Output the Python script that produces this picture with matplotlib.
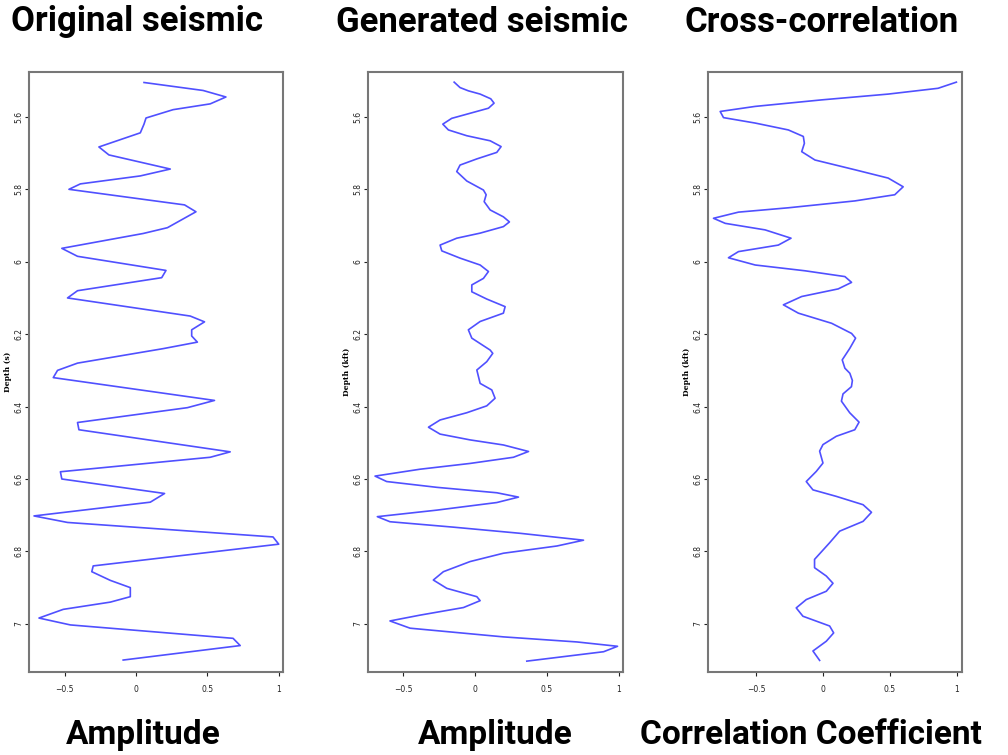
"""Seismic trace comparison: original, generated and cross-correlation."""

import matplotlib

matplotlib.use("Agg")
import matplotlib.pyplot as plt
from matplotlib.ticker import FormatStrFormatter, FuncFormatter

# original seismic trace (depth, amplitude)
orig_depth = [5.505, 5.527, 5.545, 5.564, 5.58, 5.603, 5.62, 5.644, 5.683, 5.705,
              5.744, 5.763, 5.785, 5.80, 5.843, 5.862, 5.906, 5.922, 5.963, 5.985,
              6.024, 6.044, 6.08, 6.10, 6.15, 6.166, 6.188, 6.205, 6.222, 6.24,
              6.28, 6.30, 6.32, 6.383, 6.403, 6.444, 6.464, 6.525, 6.54, 6.58,
              6.60, 6.64, 6.664, 6.702, 6.72, 6.76, 6.78, 6.84, 6.856, 6.88,
              6.90, 6.925, 6.94, 6.96, 6.984, 7.003, 7.04, 7.06, 7.10]
orig_amp = [0.056, 0.47, 0.63, 0.52, 0.26, 0.07, 0.056, 0.03, -0.26, -0.19,
            0.24, 0.03, -0.39, -0.47, 0.34, 0.42, 0.22, 0.05, -0.52, -0.41,
            0.21, 0.18, -0.41, -0.48, 0.38, 0.48, 0.39, 0.39, 0.43, 0.19,
            -0.41, -0.55, -0.58, 0.55, 0.36, -0.41, -0.40, 0.66, 0.52, -0.53,
            -0.52, 0.20, 0.10, -0.715, -0.48, 0.96, 1.0, -0.30, -0.31, -0.18,
            -0.04, -0.04, -0.18, -0.51, -0.68, -0.46, 0.68, 0.73, -0.09]

# generated seismic trace
gen_depth = [5.504, 5.519, 5.528, 5.537, 5.550, 5.562, 5.576, 5.590, 5.604, 5.620,
             5.636, 5.652, 5.666, 5.682, 5.698, 5.716, 5.733, 5.751, 5.777, 5.802,
             5.815, 5.834, 5.857, 5.876, 5.890, 5.903, 5.921, 5.935, 5.954, 5.970,
             5.990, 6.009, 6.027, 6.046, 6.064, 6.083, 6.103, 6.124, 6.142, 6.165,
             6.188, 6.211, 6.244, 6.253, 6.276, 6.299, 6.336, 6.354, 6.377, 6.398,
             6.417, 6.437, 6.457, 6.476, 6.492, 6.506, 6.524, 6.540, 6.557, 6.573,
             6.592, 6.607, 6.623, 6.638, 6.650, 6.665, 6.686, 6.704, 6.718, 6.733,
             6.750, 6.769, 6.785, 6.805, 6.828, 6.856, 6.879, 6.902, 6.925, 6.936,
             6.955, 6.976, 6.992, 7.012, 7.036, 7.050, 7.062, 7.077, 7.103]
gen_amp = [-0.146, -0.105, -0.047, 0.035, 0.109, 0.132, 0.093, -0.035, -0.163, -0.225,
           -0.186, -0.058, 0.105, 0.181, 0.151, 0.012, -0.105, -0.128, -0.058, 0.058,
           0.077, 0.063, 0.105, 0.197, 0.239, 0.197, 0.035, -0.128, -0.244, -0.232,
           -0.105, 0.035, 0.093, 0.058, -0.023, -0.023, 0.081, 0.209, 0.197, 0.035,
           -0.047, -0.023, 0.105, 0.123, 0.081, 0.012, 0.035, 0.116, 0.139, 0.081,
           -0.058, -0.244, -0.325, -0.244, -0.035, 0.197, 0.372, 0.267, -0.035, -0.384,
           -0.697, -0.616, -0.267, 0.151, 0.302, 0.151, -0.267, -0.681, -0.593, -0.151,
           0.314, 0.755, 0.570, 0.197, -0.035, -0.221, -0.291, -0.197, 0.012, 0.035,
           -0.081, -0.384, -0.593, -0.453, 0.197, 0.709, 0.992, 0.895, 0.360]

# cross-correlation coefficient
xc_depth = [5.504, 5.521, 5.537, 5.553, 5.571, 5.585, 5.602, 5.617, 5.636, 5.654,
            5.673, 5.696, 5.719, 5.746, 5.769, 5.793, 5.815, 5.832, 5.851, 5.863,
            5.880, 5.894, 5.912, 5.935, 5.954, 5.972, 5.989, 6.009, 6.025, 6.041,
            6.057, 6.075, 6.096, 6.119, 6.142, 6.170, 6.198, 6.211, 6.239, 6.271,
            6.294, 6.308, 6.328, 6.345, 6.365, 6.385, 6.417, 6.443, 6.464, 6.482,
            6.505, 6.523, 6.556, 6.579, 6.607, 6.630, 6.648, 6.671, 6.692, 6.717,
            6.744, 6.776, 6.822, 6.845, 6.868, 6.888, 6.910, 6.933, 6.956, 6.979,
            7.006, 7.025, 7.048, 7.075, 7.101]
xc_coef = [0.998, 0.861, 0.488, -0.010, -0.507, -0.769, -0.744, -0.507, -0.259, -0.147,
           -0.139, -0.159, -0.060, 0.239, 0.488, 0.600, 0.537, 0.239, -0.259, -0.632,
           -0.819, -0.731, -0.433, -0.239, -0.334, -0.632, -0.707, -0.507, -0.134, 0.164,
           0.214, 0.114, -0.159, -0.296, -0.184, 0.065, 0.214, 0.244, 0.201, 0.144,
           0.164, 0.201, 0.22, 0.213, 0.15, 0.138, 0.20, 0.27, 0.238, 0.10,
           0.0, -0.025, 0.0, -0.05, -0.125, -0.075, 0.10, 0.30, 0.363, 0.30,
           0.125, 0.05, -0.063, -0.063, 0.025, 0.075, 0.025, -0.125, -0.20, -0.15,
           0.05, 0.08, 0.025, -0.075, -0.025]

titles = ["Original seismic", "Generated seismic", "Cross-correlation"]
xlabels = ["Amplitude", "Amplitude", "Correlation Coefficient"]
ylabels = ["Depth (s)", "Depth (kft)", "Depth (kft)"]
xticks = [-0.5, 0, 0.5, 1]
yticks = [5.6, 5.8, 6.0, 6.2, 6.4, 6.6, 6.8, 7.0]

W, H = 1008, 755
fig = plt.figure(figsize=(W / 100, H / 100), dpi=100)

panels = [
    (orig_amp, orig_depth, 29, 283, (-0.75, 1.03), 137, 143),
    (gen_amp, gen_depth, 368, 623, (-0.746, 1.03), 482, 495),
    (xc_coef, xc_depth, 708, 962, (-0.86, 1.04), 822, 811),
]

for i, (xs, ys, left, right, xlim, tx, bx) in enumerate(panels):
    ax = fig.add_axes([left / W, (H - 672) / H, (right - left) / W, 600 / H])
    ax.plot(xs, ys, color="#5050ff", linewidth=1.2, solid_joinstyle="round")
    ax.set_xlim(*xlim)
    ax.set_ylim(7.133, 5.476)
    ax.set_xticks(xticks)
    ax.set_yticks(yticks)
    ax.xaxis.set_major_formatter(FuncFormatter(lambda v, _: f"{v:g}".replace("-", "\u2212")))
    ax.yaxis.set_major_formatter(FormatStrFormatter("%g"))
    ax.tick_params(labelsize=5.5, length=3, width=0.8, colors="#222222")
    ax.tick_params(axis="x", pad=6)
    ax.tick_params(axis="y", pad=1)
    for lab in ax.get_yticklabels():
        lab.set_rotation(90)
        lab.set_va("center")
    ax.set_ylabel(ylabels[i], fontsize=5.5, fontweight="bold", family="DejaVu Serif",
                  labelpad=2)
    for sp in ax.spines.values():
        sp.set_color("#777777")
        sp.set_linewidth(1.5)
    fig.text(tx / W, 1 - 22 / H, titles[i], ha="center", va="center",
             fontsize=25, fontweight="bold", family="Roboto")
    fig.text(bx / W, 1 - 735 / H, xlabels[i], ha="center", va="center",
             fontsize=24, fontweight="bold", family="Roboto")

fig.savefig("out.png", dpi=100)
